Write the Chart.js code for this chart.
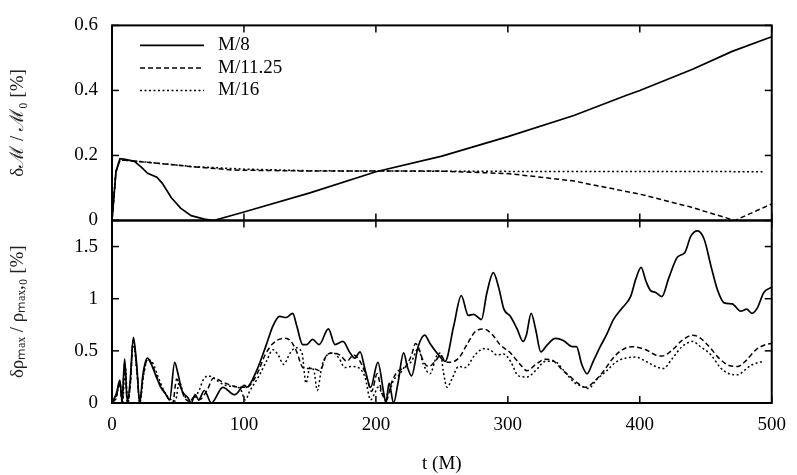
<!DOCTYPE html>
<html>
<head>
<meta charset="utf-8">
<script src="https://cdn.jsdelivr.net/npm/chart.js@4"></script>
<style>
html, body { margin: 0; padding: 0; background: #fff; }
#wrap { width: 797px; height: 475px; }
</style>
</head>
<body>
<div id="wrap"><canvas id="grafica" width="797" height="475"></canvas></div>
<script>
// tick labels
const xTicks = [0, 100, 200, 300, 400, 500];
const topTicks = [0, 0.2, 0.4, 0.6];
const botTicks = [0, 0.5, 1, 1.5];
const seriesNames = ["M/8", "M/11.25", "M/16"];

// top panel: delta M / M0 [%]
const tTop8 = [0, 3, 6, 10, 17, 22, 27, 34, 38, 45, 52, 60, 70, 77, 100, 150, 200, 250, 300, 350, 390, 400, 440, 470, 500];
const vTop8 = [0, 0.15, 0.19, 0.188, 0.182, 0.165, 0.145, 0.133, 0.115, 0.07, 0.038, 0.015, 0.004, 0, 0.026, 0.085, 0.15, 0.198, 0.258, 0.323, 0.385, 0.4, 0.465, 0.52, 0.565];
const tTop11 = [0, 3, 6, 10, 19, 40, 59, 92, 150, 200, 248, 301, 349, 400, 438, 472, 500];
const vTop11 = [0, 0.15, 0.185, 0.185, 0.182, 0.174, 0.166, 0.155, 0.152, 0.152, 0.152, 0.144, 0.122, 0.081, 0.042, 0, 0.051];
const tTop16 = [0, 3, 6, 10, 20, 60, 100, 150, 200, 300, 400, 493];
const vTop16 = [0, 0.15, 0.185, 0.185, 0.182, 0.166, 0.158, 0.153, 0.152, 0.151, 0.151, 0.15];

// bottom panel: delta rho_max / rho_max,0 [%]
const tBot8 = [0, 3.3, 6, 7.6, 9.6, 11.6, 13.7, 16.2, 18.7, 21, 23.5, 26.8, 29.8, 33.6, 37, 40.4, 43.7, 47.5, 50, 53, 57.6, 60, 63, 65.7, 70, 75.3, 84, 93, 100.5,
  102, 109.6, 117, 122, 127, 132, 137, 140, 144.5, 147.5, 152, 157, 164, 169, 175, 180, 184, 188, 192, 196,
  201.5, 206, 207.6, 210, 213.4, 216.7, 221, 224, 227, 232, 237, 241, 247.5, 252.5, 259, 264.7, 270, 274, 280, 284, 289, 293, 297,
  302, 307, 311.6, 314, 317.7, 321, 325, 330, 336, 342, 349, 352, 356, 360, 364.7, 370, 375, 380, 386.6, 393, 397,
  401, 404.6, 408, 412, 416.7, 422, 428.6, 434, 438.7, 443.7, 448.8, 454, 459, 464, 470, 476.5, 481, 485, 489, 494, 500];
const vBot8 = [0, 0.09, 0.22, 0.015, 0.42, 0.015, 0.2, 0.63, 0.37, 0, 0.28, 0.43, 0.37, 0.25, 0.15, 0.09, 0.03, 0.39, 0.28, 0.12, 0.05, 0, 0.08, 0.03, 0.12, 0, 0.15, 0.08, 0.17,
  0.15, 0.31, 0.56, 0.74, 0.83, 0.82, 0.86, 0.74, 0.56, 0.56, 0.61, 0.56, 0.71, 0.56, 0.59, 0.49, 0.43, 0.49, 0.31, 0.15,
  0.39, 0.09, 0, 0.19, 0, 0.19, 0.48, 0.34, 0.26, 0.54, 0.65, 0.57, 0.46, 0.4, 0.74, 1.03, 0.84, 0.85, 0.8, 1.05, 1.25, 1.11, 0.9,
  0.83, 0.71, 0.59, 0.65, 0.86, 0.71, 0.49, 0.56, 0.62, 0.6, 0.54, 0.54, 0.37, 0.28, 0.4, 0.54, 0.66, 0.8, 0.91, 1.02, 1.19,
  1.3, 1.17, 1.08, 1.06, 1.02, 1.2, 1.4, 1.44, 1.6, 1.65, 1.57, 1.31, 1.08, 0.96, 0.95, 0.88, 0.9, 0.86, 0.91, 1.06, 1.11];

const tBot11 = [0, 3, 6, 7.6, 9.6, 11.6, 14, 16, 19, 21, 23.5, 27, 30, 34, 38, 41, 44, 46, 49, 52, 55, 58, 63, 66, 72, 77, 84, 90, 97,
  102, 110, 116, 122, 130, 135, 140, 144, 147.5, 152.5, 157.6, 162.7, 167.7, 172.8, 178, 183, 188, 193, 196.7,
  201, 204.6, 208, 212, 217, 222, 227, 230, 232, 236, 240, 245, 249, 252.5, 256, 262.7, 269, 275, 281.6, 288, 294,
  302, 308, 314.7, 321, 328.6, 335, 341, 347.5, 354, 359, 365, 372.8, 379, 386.6, 394,
  404.6, 412, 417, 424.8, 432, 440, 445, 452.6, 460, 467.7, 474, 480, 488, 495.5, 500];
const vBot11 = [0, 0.05, 0.2, 0, 0.38, 0, 0.2, 0.6, 0.3, 0, 0.25, 0.42, 0.38, 0.25, 0.14, 0.08, 0.02, 0, 0.23, 0.15, 0.05, 0.02, 0.06, 0.03, 0.12, 0.24, 0.2, 0.17, 0.15,
  0.15, 0.28, 0.46, 0.57, 0.62, 0.6, 0.49, 0.35, 0.33, 0.33, 0.31, 0.46, 0.48, 0.46, 0.4, 0.46, 0.4, 0.25, 0.11,
  0.28, 0.09, 0.03, 0.2, 0.31, 0.34, 0.46, 0.57, 0.54, 0.4, 0.35, 0.4, 0.46, 0.4, 0.39, 0.43, 0.56, 0.68, 0.71, 0.66, 0.56,
  0.48, 0.39, 0.31, 0.37, 0.42, 0.4, 0.32, 0.25, 0.18, 0.15, 0.2, 0.31, 0.42, 0.51, 0.54,
  0.51, 0.46, 0.45, 0.51, 0.6, 0.65, 0.63, 0.54, 0.43, 0.36, 0.35, 0.4, 0.51, 0.56, 0.57];

const tBot16 = [0, 3, 6, 8, 10, 12, 14, 16, 19, 21, 24, 27, 31, 35, 40, 44, 48, 51, 54, 58, 62, 66, 69, 73, 78, 84, 90, 97,
  101, 104.6, 111, 117, 122, 126, 130, 135, 139.4, 144, 147, 150, 153, 155.6, 159, 163, 167.7, 172, 176.5, 181.6, 186.6, 191.7, 196, 199,
  201.5, 206, 209.6, 213.4, 217, 222, 227, 232, 236, 241, 246, 249, 251, 254, 257.6, 262.7, 267.7, 275, 281.6, 286.6, 291.7, 296.7,
  302, 308, 314.7, 321, 328.6, 335, 342.5, 350, 356, 361, 367.7, 375, 381.6, 389, 396.7,
  404.6, 412, 417.7, 424.8, 432, 440, 446, 454, 461, 467.7, 474, 480, 484, 490.5, 494];
const vBot16 = [0, 0.04, 0.18, 0, 0.36, 0, 0.2, 0.58, 0.28, 0, 0.27, 0.42, 0.38, 0.25, 0.1, 0.04, 0.02, 0.2, 0.1, 0.02, 0.05, 0.12, 0.22, 0.26, 0.23, 0.18, 0.16, 0.14,
  0.03, 0.12, 0.25, 0.4, 0.51, 0.46, 0.37, 0.48, 0.53, 0.48, 0.19, 0.34, 0.31, 0.12, 0.35, 0.46, 0.48, 0.43, 0.34, 0.35, 0.34, 0.25, 0.03, 0.09,
  0.15, 0.08, 0.09, 0.22, 0.26, 0.35, 0.4, 0.52, 0.37, 0.28, 0.45, 0.48, 0.31, 0.15, 0.23, 0.35, 0.34, 0.46, 0.52, 0.51, 0.46, 0.47,
  0.4, 0.26, 0.25, 0.31, 0.4, 0.4, 0.31, 0.2, 0.16, 0.14, 0.23, 0.31, 0.39, 0.43, 0.44,
  0.4, 0.35, 0.33, 0.43, 0.54, 0.59, 0.54, 0.46, 0.34, 0.28, 0.27, 0.32, 0.36, 0.39, 0.4];

const serif = "'Liberation Serif', 'Times New Roman', serif";
const dashes = [[], [5, 3], [2, 2.5]];

function pts(t, v) { return t.map((x, i) => ({ x: x, y: v[i] })); }

function serie(label, t, v, k, axis) {
  return {
    label: label,
    data: pts(t, v),
    yAxisID: axis,
    borderColor: "#000",
    borderWidth: k === 0 ? 1.7 : 1.5,
    borderDash: dashes[k],
    pointRadius: 0,
    fill: false,
    tension: axis === "yBot" ? 0.4 : 0,
    cubicInterpolationMode: axis === "yBot" ? "monotone" : "default"
  };
}

const TL = 7; // inward tick length

const marco = {
  id: "marco",
  afterDatasetsDraw(chart) {
    const { ctx, chartArea: a, scales } = chart;
    const x = scales.x;
    ctx.save();
    ctx.strokeStyle = "#000";
    ctx.lineWidth = 1.5;
    const seg = (x1, y1, x2, y2) => { ctx.beginPath(); ctx.moveTo(x1, y1); ctx.lineTo(x2, y2); ctx.stroke(); };
    ["yTop", "yBot"].forEach(id => {
      const s = scales[id];
      s.ticks.forEach(t => {
        const y = s.getPixelForValue(t.value);
        seg(a.left, y, a.left + TL, y);
        seg(a.right, y, a.right - TL, y);
      });
      x.ticks.forEach(t => {
        const px = x.getPixelForValue(t.value);
        seg(px, s.top, px, s.top + TL);
        seg(px, s.bottom, px, s.bottom - TL);
      });
      ctx.lineWidth = 2;
      ctx.strokeRect(a.left, s.top, a.right - a.left, s.bottom - s.top);
      ctx.lineWidth = 1.5;
    });
    ctx.restore();
  }
};

const leyenda = {
  id: "leyenda",
  afterDatasetsDraw(chart) {
    const { ctx, chartArea: a } = chart;
    ctx.save();
    ctx.font = "19px " + serif;
    ctx.textBaseline = "middle";
    ctx.fillStyle = "#000";
    ctx.strokeStyle = "#000";
    for (let i = 0; i < 3; i++) {
      const ds = chart.data.datasets[i];
      const y = a.top + 20 + i * 22.5;
      ctx.lineWidth = ds.borderWidth;
      ctx.setLineDash(ds.borderDash);
      ctx.beginPath();
      ctx.moveTo(a.left + 28, y);
      ctx.lineTo(a.left + 92, y);
      ctx.stroke();
      ctx.setLineDash([]);
      ctx.fillText(ds.label, a.left + 106, y);
    }
    ctx.restore();
  }
};

const fijarTicks = arr => scale => { scale.ticks = arr.map(v => ({ value: v })); };
const etiqueta = v => String(v);

const tickFont = { family: serif, size: 19 };

new Chart(document.getElementById("grafica"), {
  type: "line",
  data: {
    datasets: [
      serie(seriesNames[0], tTop8, vTop8, 0, "yTop"),
      serie(seriesNames[1], tTop11, vTop11, 1, "yTop"),
      serie(seriesNames[2], tTop16, vTop16, 2, "yTop"),
      serie(seriesNames[0], tBot8, vBot8, 0, "yBot"),
      serie(seriesNames[1], tBot11, vBot11, 1, "yBot"),
      serie(seriesNames[2], tBot16, vBot16, 2, "yBot")
    ]
  },
  options: {
    responsive: false,
    animation: false,
    layout: { padding: { left: 0, right: 25, top: 12, bottom: 0 } },
    plugins: { legend: { display: false }, tooltip: { enabled: false } },
    scales: {
      x: {
        type: "linear",
        position: "bottom",
        min: 0,
        max: 500,
        afterBuildTicks: fijarTicks(xTicks),
        afterFit: s => { s.height = 72; },
        grid: { display: false, drawTicks: false },
        border: { display: false },
        ticks: { font: tickFont, color: "#000", padding: 11, maxRotation: 0, callback: etiqueta },
        title: { display: true, text: "t (M)", font: tickFont, color: "#000", padding: { top: 2, bottom: 0 } }
      },
      yBot: {
        type: "linear",
        position: "left",
        stack: "paneles",
        stackWeight: 189,
        weight: 0,
        min: 0,
        max: 1.75,
        afterBuildTicks: fijarTicks(botTicks),
        afterFit: s => { s.width = 112; },
        grid: { display: false, drawTicks: false },
        border: { display: false },
        ticks: { font: tickFont, color: "#000", padding: 14, callback: etiqueta },
        title: { display: true, text: "δρₘₐₓ / ρₘₐₓ,₀ [%]", font: tickFont, color: "#222", padding: { top: 7, bottom: 0 } }
      },
      yTop: {
        type: "linear",
        position: "left",
        stack: "paneles",
        stackWeight: 202,
        weight: 1,
        min: 0,
        max: 0.6,
        afterBuildTicks: fijarTicks(topTicks),
        afterFit: s => { s.width = 112; },
        grid: { display: false, drawTicks: false },
        border: { display: false },
        ticks: { font: tickFont, color: "#000", padding: 14, callback: etiqueta },
        title: { display: true, text: "δℳ / ℳ₀ [%]", font: tickFont, color: "#222", padding: { top: 7, bottom: 0 } }
      }
    }
  },
  plugins: [marco, leyenda]
});
</script>
</body>
</html>
